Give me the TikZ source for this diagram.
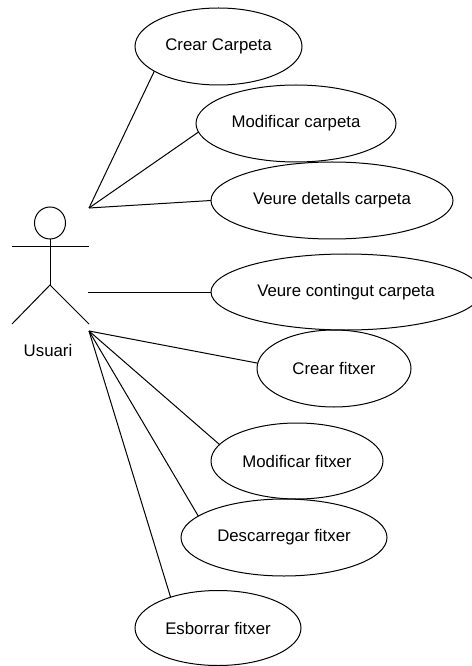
\documentclass[tikz,border=0pt]{standalone}
\usepackage{fontspec}
\setmainfont{Liberation Sans}
\usetikzlibrary{shapes.geometric}
\tikzset{
  usecase/.style={draw=black,ellipse,inner sep=0pt,outer sep=0pt,font=\fontsize{12.6pt}{14pt}\selectfont},
  ucsize/.style 2 args={minimum width=#1*0.75pt,minimum height=#2*0.75pt},
  link/.style={draw=black,line width=0.75pt},
  lbl/.style={font=\fontsize{12.6pt}{14pt}\selectfont,inner sep=0pt}
}
\begin{document}
\begin{tikzpicture}[x=0.75pt,y=-0.75pt,line width=0.75pt]
\useasboundingbox (0,0) rectangle (471,666);
% use cases
\node[usecase,ucsize={167}{77}] (c1) at (218.5,46.5) {Crear Carpeta};
\node[usecase,ucsize={200}{77}] (c2) at (296,123.5) {Modificar carpeta};
\node[usecase,ucsize={242}{77}] (c3) at (332,200.5) {Veure detalls carpeta};
\node[usecase,ucsize={270}{76}] (c4) at (346,292) {Veure contingut carpeta};
\node[usecase,ucsize={154}{77}] (c5) at (334,368.5) {Crear fitxer};
\node[usecase,ucsize={172}{76}] (c6) at (297,461) {Modificar fitxer};
\node[usecase,ucsize={206}{77}] (c7) at (284,537.5) {Descarregar fitxer};
\node[usecase,ucsize={166}{75}] (c8) at (218,628) {Esborrar fitxer};
% actor
\node[draw=black,ellipse,inner sep=0pt,outer sep=0pt,ucsize={31}{32}] (head) at (50,223) {};
\coordinate (hip) at (50,285);
\coordinate (armL) at (12,247);
\coordinate (armR) at (89,247);
\coordinate (legL) at (12,324);
\coordinate (legR) at (89,324);
\path[link] (head.south) -- (hip);
\path[link] (armL) -- (armR);
\path[link] (legL) -- (hip) -- (legR);
\node[lbl] (actor) at (48,350) {Usuari};
% connector origins
\coordinate (top) at (89,208);
\coordinate (mid) at (88,292);
\coordinate (bot) at (89,331);
\path[link] (top) -- (c1.201.9);
\path[link] (top) -- (c2.185.5);
\path[link] (top) -- (c3.west);
\path[link] (mid) -- (c4.west);
\path[link] (bot) -- (c5.176.7);
\path[link] (bot) -- (c6.168.7);
\path[link] (bot) -- (c7.166.9);
\path[link] (bot) -- (c8.147.1);
\end{tikzpicture}
\end{document}
